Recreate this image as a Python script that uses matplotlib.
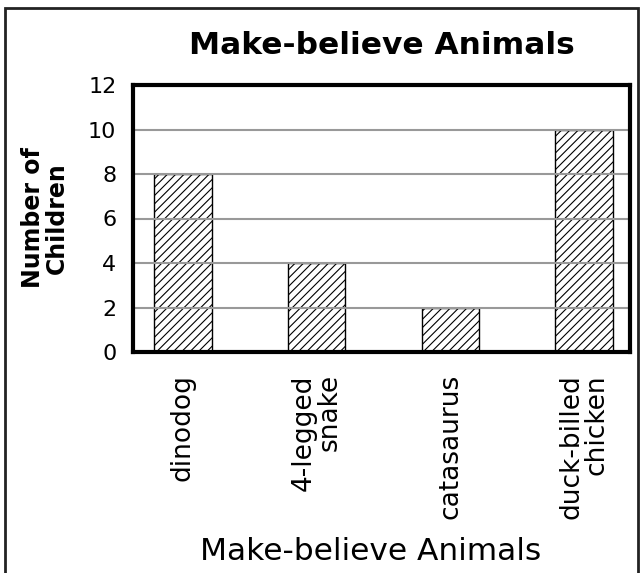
import matplotlib
matplotlib.use("Agg")
import matplotlib.pyplot as plt
from matplotlib.patches import Rectangle

# data
animals = ["dinodog", "4-legged\nsnake", "catasaurus", "duck-billed\nchicken"]
children = [8, 4, 2, 10]
y_ticks = [0, 2, 4, 6, 8, 10, 12]

plt.rcParams['font.family'] = ['DejaVu Sans']
plt.rcParams['hatch.linewidth'] = 0.8

fig = plt.figure(figsize=(6.43, 5.73), dpi=100)
ax = fig.add_axes([133 / 643, 1 - 352 / 573, 497 / 643, 267 / 573])

x = list(range(len(animals)))
ax.bar(x, children, width=0.43, color="white", edgecolor="black",
       linewidth=1.0, hatch="////", zorder=2)

ax.set_ylim(0, 12)
ax.set_xlim(-0.373, 3.343)
ax.set_yticks(y_ticks)
ax.yaxis.grid(True, color="#999999", linewidth=1.5, zorder=3)
ax.set_axisbelow(False)
ax.tick_params(length=0, labelsize=16, pad=12)
ax.set_xticks(x)
ax.set_xticklabels(animals, rotation=90, va="top", ha="center",
                   multialignment="right", fontsize=19, linespacing=0.95)
ax.tick_params(axis="x", pad=16)
for s in ax.spines.values():
    s.set_linewidth(3)
    s.set_zorder(5)

fig.text(382 / 643, 1 - 45 / 573, "Make-believe Animals", ha="center", va="center",
         fontsize=22.5, fontweight="bold")
fig.text(45 / 643, 1 - 218 / 573, "Number of\nChildren", ha="center", va="center",
         rotation=90, fontsize=17, fontweight="bold", linespacing=1.0)
fig.text(371 / 643, 1 - 551 / 573, "Make-believe Animals", ha="center", va="center",
         fontsize=22.5)

# outer frame
fig.patches.append(Rectangle((5 / 643, -0.02), 633 / 643, 1.02 - 8 / 573,
                             transform=fig.transFigure, fill=False,
                             edgecolor="#222222", linewidth=2))

fig.savefig("out.png", dpi=100)
